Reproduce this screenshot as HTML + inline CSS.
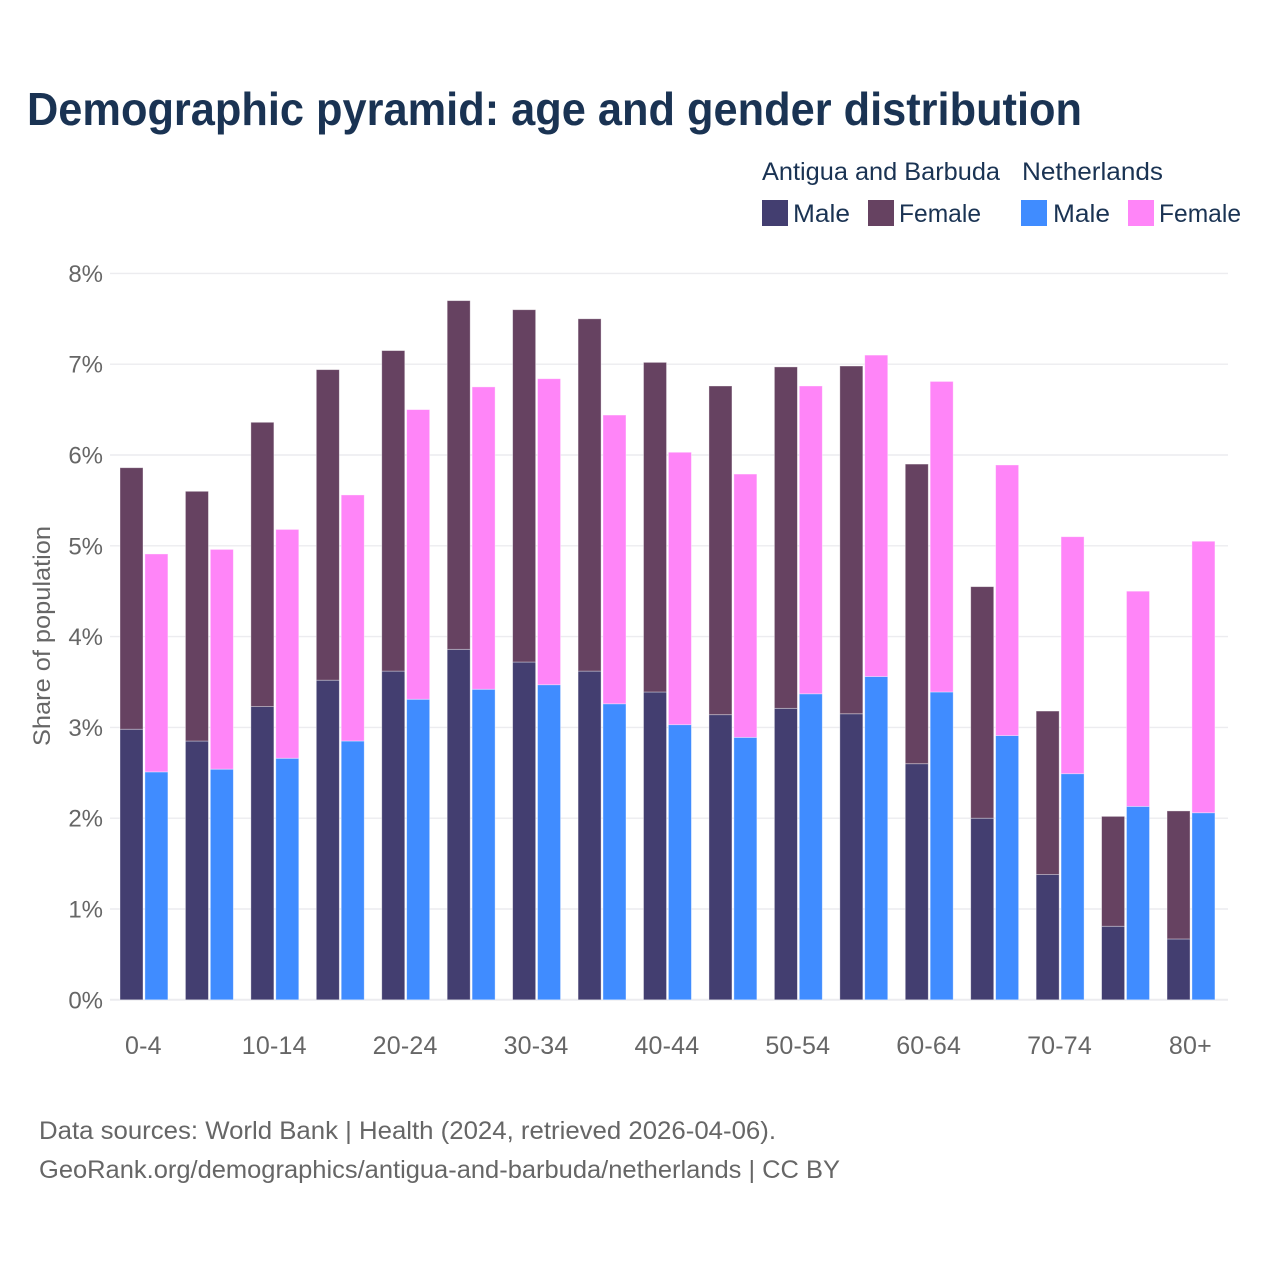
<!DOCTYPE html>
<html lang="en">
<head>
<meta charset="utf-8">
<title>Demographic pyramid: age and gender distribution</title>
<style>
html,body{margin:0;padding:0;background:#fff;width:1280px;height:1280px;overflow:hidden}
svg{display:block;font-family:"Liberation Sans",sans-serif}
</style>
</head>
<body>
<svg id="chart" xmlns="http://www.w3.org/2000/svg" width="1280" height="1280" viewBox="0 0 1280 1280">
  <rect width="1280" height="1280" fill="#fff"/>
  <text x="27" y="125" font-size="46" font-weight="700" fill="#1a3353" textLength="1055" lengthAdjust="spacingAndGlyphs">Demographic pyramid: age and gender distribution</text>

  <g font-size="25" fill="#1a3353">
    <text x="762" y="180" textLength="238" lengthAdjust="spacingAndGlyphs">Antigua and Barbuda</text>
    <text x="1022" y="180" textLength="141" lengthAdjust="spacingAndGlyphs">Netherlands</text>
    <rect x="762" y="200" width="26" height="26" fill="#433e70"/>
    <text x="793" y="222" textLength="57" lengthAdjust="spacingAndGlyphs">Male</text>
    <rect x="868" y="200" width="26" height="26" fill="#664261"/>
    <text x="899" y="222" textLength="82" lengthAdjust="spacingAndGlyphs">Female</text>
    <rect x="1021" y="200" width="26" height="26" fill="#408cff"/>
    <text x="1053" y="222" textLength="57" lengthAdjust="spacingAndGlyphs">Male</text>
    <rect x="1128" y="200" width="26" height="26" fill="#ff85f8"/>
    <text x="1159" y="222" textLength="82" lengthAdjust="spacingAndGlyphs">Female</text>
  </g>

  <text transform="translate(50,636) rotate(-90)" text-anchor="middle" font-size="24" fill="#666" textLength="220" lengthAdjust="spacingAndGlyphs">Share of population</text>

  <g id="grid"></g>
  <g id="y-ticks"></g>
  <g id="bars"></g>
  <g id="x-ticks"></g>

  <text x="39" y="1139" font-size="25" fill="#666" textLength="737" lengthAdjust="spacingAndGlyphs">Data sources: World Bank | Health (2024, retrieved 2026-04-06).</text>
  <text x="39" y="1178" font-size="25" fill="#666" textLength="801" lengthAdjust="spacingAndGlyphs">GeoRank.org/demographics/antigua-and-barbuda/netherlands | CC BY</text>
</svg>
<script>
const ageGroups = ['0-4','5-9','10-14','15-19','20-24','25-29','30-34','35-39','40-44','45-49','50-54','55-59','60-64','65-69','70-74','75-79','80+'];
const antiguaMale = [2.98,2.85,3.23,3.52,3.62,3.86,3.72,3.62,3.39,3.14,3.21,3.15,2.60,2.00,1.38,0.81,0.67];
const antiguaFemale = [2.88,2.75,3.13,3.42,3.53,3.84,3.88,3.88,3.63,3.62,3.76,3.83,3.30,2.55,1.80,1.21,1.41];
const netherlandsMale = [2.51,2.54,2.66,2.85,3.31,3.42,3.47,3.26,3.03,2.89,3.37,3.56,3.39,2.91,2.49,2.13,2.06];
const netherlandsFemale = [2.40,2.42,2.52,2.71,3.19,3.33,3.37,3.18,3.00,2.90,3.39,3.54,3.42,2.98,2.61,2.37,2.99];
const yTicks = [0,1,2,3,4,5,6,7,8];
const xTickEvery = 2;

const NS = 'http://www.w3.org/2000/svg';
const yScale = v => 999.8 - v * 90.8;
const xScale = i => 120 + i * 65.44;
const barWidth = 23;
const groupOffset = 24.9;

const grid = document.getElementById('grid');
const yTicksGroup = document.getElementById('y-ticks');
const barsGroup = document.getElementById('bars');
const xTicksGroup = document.getElementById('x-ticks');

yTicks.forEach(t => {
  const line = document.createElementNS(NS, 'line');
  
  
  line.setAttribute('x1', 110);
  line.setAttribute('x2', 1228);
  line.setAttribute('y1', yScale(t));
  line.setAttribute('y2', yScale(t));
  line.setAttribute('stroke', '#ececef');
  line.setAttribute('stroke-width', t === 0 ? 2 : 1.4);
  grid.appendChild(line);

  const label = document.createElementNS(NS, 'text');
  
  
  label.setAttribute('x', 103);
  label.setAttribute('y', yScale(t) + 8.5);
  label.setAttribute('text-anchor', 'end');
  label.setAttribute('font-size', '24');
  label.setAttribute('fill', '#666');
  label.textContent = t + '%';
  yTicksGroup.appendChild(label);
});

function addBar(x, base, value, fill) {
  const bar = document.createElementNS(NS, 'rect');
  
  
  const top = yScale(base + value);
  bar.setAttribute('x', x);
  bar.setAttribute('y', top);
  bar.setAttribute('width', barWidth);
  bar.setAttribute('height', yScale(base) - top);
  bar.setAttribute('fill', fill);
  bar.setAttribute('stroke', 'rgba(255,255,255,0.45)');
  bar.setAttribute('stroke-width', 0.8);
  barsGroup.appendChild(bar);
}

ageGroups.forEach((age, i) => {
  const x = xScale(i);
  addBar(x, 0, antiguaMale[i], '#433e70');
  addBar(x, antiguaMale[i], antiguaFemale[i], '#664261');
  addBar(x + groupOffset, 0, netherlandsMale[i], '#408cff');
  addBar(x + groupOffset, netherlandsMale[i], netherlandsFemale[i], '#ff85f8');

  if (i % xTickEvery === 0) {
    const label = document.createElementNS(NS, 'text');
    
    
    label.setAttribute('x', x + 23.4);
    label.setAttribute('y', 1054);
    label.setAttribute('text-anchor', 'middle');
    label.setAttribute('font-size', '25');
    label.setAttribute('letter-spacing', '0.2');
    label.setAttribute('fill', '#666');
    label.textContent = age;
    xTicksGroup.appendChild(label);
  }
});
</script>
</body>
</html>
